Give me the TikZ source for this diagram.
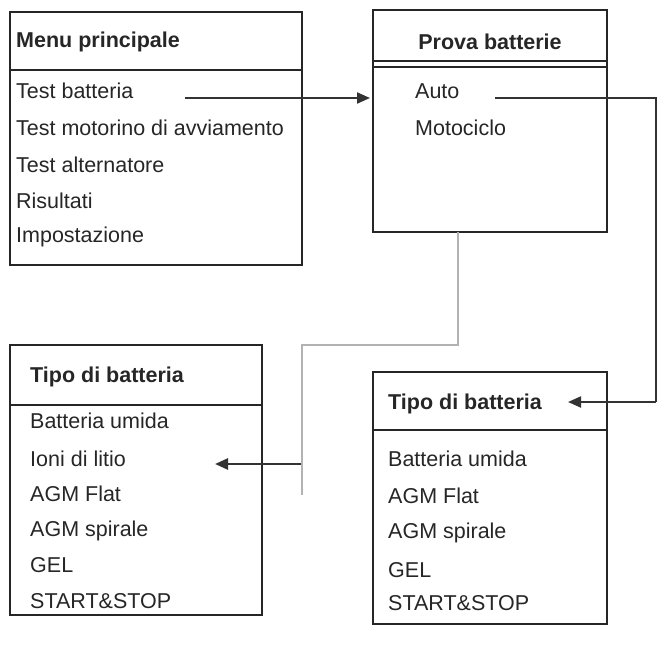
\documentclass[tikz,border=0pt]{standalone}
\usepackage{fontspec}
\setmainfont{Liberation Sans}
\usetikzlibrary{arrows.meta}
\begin{document}
\begin{tikzpicture}[x=1pt,y=-1pt,
  box/.style={draw=black!85,line width=1.8pt},
  txt/.style={anchor=west,inner sep=0pt,font=\fontsize{21.5}{25}\selectfont,text=black!85},
  ttl/.style={txt,font=\fontsize{21.5}{25}\selectfont\bfseries},
  con/.style={draw=black!80,line width=2pt},
  arr/.style={con,-{Triangle[length=13pt,width=11pt]}},
  gry/.style={draw=black!30,line width=2.4pt}]
\useasboundingbox (0,0) rectangle (662,656);
% Box 1
\draw[box] (10,12) rectangle (302,265);
\draw[box] (10,70) -- (302,70);
\node[ttl] (t1) at (16,42) {Menu principale};
\node[txt] (a1) at (16,91) {Test batteria};
\node[txt] (a2) at (16,128) {Test motorino di avviamento};
\node[txt] (a3) at (16,165) {Test alternatore};
\node[txt] (a4) at (16,201) {Risultati};
\node[txt] (a5) at (16,237) {Impostazione};
% Box 2
\draw[box] (373,10) rectangle (607,232);
\draw[box] (373,61) -- (607,61);
\draw[box] (373,67) -- (607,67);
\node[ttl,anchor=center] (t2) at (490,42) {Prova batterie};
\node[txt] (b1) at (415,91) {Auto};
\node[txt] (b2) at (415,128) {Motociclo};
% Box 3
\draw[box] (10,345) rectangle (262,615);
\draw[box] (10,405) -- (262,405);
\node[ttl] (t3) at (30,377) {Tipo di batteria};
\node[txt] (c1) at (30,421) {Batteria umida};
\node[txt] (c2) at (30,459) {Ioni di litio};
\node[txt] (c3) at (30,494) {AGM Flat};
\node[txt] (c4) at (30,531) {AGM spirale};
\node[txt] (c5) at (30,565) {GEL};
\node[txt] (c6) at (30,601) {START\&STOP};
% Box 4
\draw[box] (373,372) rectangle (607,624);
\draw[box] (373,430) -- (607,430);
\node[ttl] (t4) at (388,404) {Tipo di batteria};
\node[txt] (d1) at (388,459) {Batteria umida};
\node[txt] (d2) at (388,496) {AGM Flat};
\node[txt] (d3) at (388,533) {AGM spirale};
\node[txt] (d4) at (388,570) {GEL};
\node[txt] (d5) at (388,603) {START\&STOP};
% connectors
\coordinate (p1) at (185,98);
\coordinate (p2) at (370,98);
\draw[arr] (p1) -- (p2);
\coordinate (q1) at (495,98);
\coordinate (q2) at (656,98);
\coordinate (q3) at (656,402);
\coordinate (q4) at (568,402);
\draw[con] (q1) -- (q2) -- (q3);
\draw[arr] (q3) -- (q4);
\coordinate (g1) at (458,232);
\coordinate (g2) at (458,345);
\coordinate (g3) at (302,345);
\coordinate (g4) at (302,495);
\draw[gry] (g1) -- (g2) -- (g3) -- (g4);
\coordinate (h1) at (301,464);
\coordinate (h2) at (215,464);
\draw[arr,line width=2.6pt] (h1) -- (h2);
\end{tikzpicture}
\end{document}
